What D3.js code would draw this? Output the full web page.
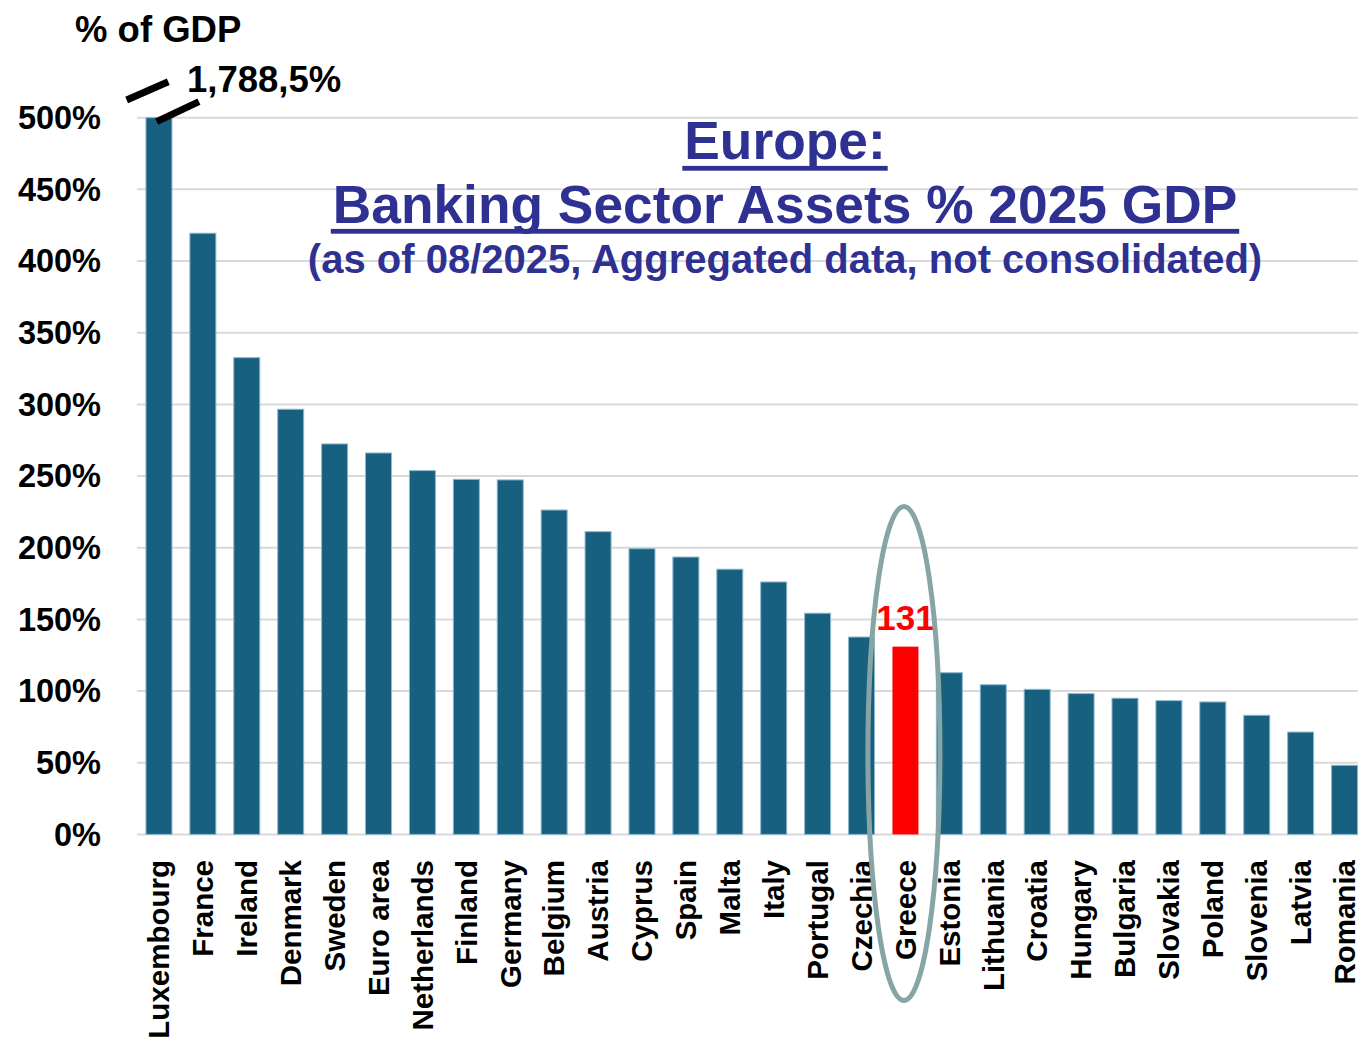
<!DOCTYPE html>
<html>
<head>
<meta charset="utf-8">
<script src="https://cdn.jsdelivr.net/npm/d3@7"></script>
<style>
  html, body { margin: 0; padding: 0; background: #ffffff; }
  svg { display: block; font-family: "Liberation Sans", Arial, sans-serif; font-weight: bold; }
</style>
</head>
<body>
<svg id="chart" width="1358" height="1038"></svg>
<script>
// Banking sector assets as % of 2025 GDP, by country
const countries = ["Luxembourg", "France", "Ireland", "Denmark", "Sweden", "Euro area",
  "Netherlands", "Finland", "Germany", "Belgium", "Austria", "Cyprus", "Spain", "Malta",
  "Italy", "Portugal", "Czechia", "Greece", "Estonia", "Lithuania", "Croatia", "Hungary",
  "Bulgaria", "Slovakia", "Poland", "Slovenia", "Latvia", "Romania"];
const assetsPctGdp = [1788.5, 419.4, 332.6, 296.6, 272.4, 266.1, 253.8, 247.7, 247.3, 226.3,
  211.2, 199.3, 193.5, 185.0, 176.1, 154.3, 137.7, 131, 112.8, 104.4, 101.2, 98.2, 95.0,
  93.3, 92.4, 83.1, 71.4, 48.2];
const yTicks = [0, 50, 100, 150, 200, 250, 300, 350, 400, 450, 500];
const yTickLabels = ["0%", "50%", "100%", "150%", "200%", "250%", "300%", "350%", "400%", "450%", "500%"];
const highlightCountry = "Greece";
const titleLines = ["Europe:", "Banking Sector Assets % 2025 GDP"];
const subtitle = "(as of 08/2025, Aggregated data, not consolidated)";
const yAxisTitle = "% of GDP";

const svg = d3.select("#chart");
const W = 1358;

const x = d3.scaleBand()
  .domain(countries)
  .range([137, 1366.5])
  .paddingInner(0.408)
  .paddingOuter(0.204);

const y = d3.scaleLinear()
  .domain([0, 500])
  .range([834.4, 117.7])
  .clamp(true);

const data = countries.map((c, i) => ({ country: c, value: assetsPctGdp[i] }));

// horizontal gridlines
svg.append("g")
  .selectAll("line")
  .data(yTicks)
  .join("line")
  .attr("x1", 137)
  .attr("x2", W)
  .attr("y1", d => y(d))
  .attr("y2", d => y(d))
  .attr("stroke", "#d9d9d9")
  .attr("stroke-width", 2);

// y tick labels
svg.append("g")
  .selectAll("text")
  .data(yTicks)
  .join("text")
  .attr("x", 101)
  .attr("y", d => y(d))
  .attr("dy", "0.35em")
  .attr("text-anchor", "end")
  .attr("font-size", 32.5)
  .attr("fill", "#000")
  .text((d, i) => yTickLabels[i]);

// bars
svg.append("g")
  .selectAll("rect")
  .data(data)
  .join("rect")
  .attr("x", d => x(d.country))
  .attr("width", x.bandwidth())
  .attr("y", d => y(d.value))
  .attr("height", d => y(0) - y(d.value))
  .attr("fill", d => d.country === highlightCountry ? "#ff0000" : "#17607f")
  .attr("stroke", d => d.country === highlightCountry ? "none" : "#8fb7cc")
  .attr("stroke-width", 1);

// category labels, rotated
svg.append("g")
  .selectAll("text")
  .data(data)
  .join("text")
  .attr("transform", d => `translate(${x(d.country) + x.bandwidth() / 2},860) rotate(-90)`)
  .attr("dy", "0.35em")
  .attr("text-anchor", "end")
  .attr("font-size", 29.5)
  .attr("fill", "#000")
  .text(d => d.country);

// value label above the highlighted bar
const hl = data.find(d => d.country === highlightCountry);
svg.append("text")
  .attr("x", x(hl.country) + x.bandwidth() / 2)
  .attr("y", y(hl.value) - 17)
  .attr("text-anchor", "middle")
  .attr("font-size", 35)
  .attr("fill", "#ff0000")
  .text(d3.format("d")(hl.value));

// ellipse around the highlighted country
svg.append("ellipse")
  .attr("cx", x(hl.country) + x.bandwidth() / 2 - 1.5)
  .attr("cy", 753.5)
  .attr("rx", 36)
  .attr("ry", 247)
  .attr("fill", "none")
  .attr("stroke", "#88a5a6")
  .attr("stroke-width", 5);

// axis-break marks and value for the off-scale bar
const offScale = data[0];
const bx = x(offScale.country);
const by = y(y.domain()[1]);
const breakMarks = [
  [[-19.3, -17.7], [22.3, -36]],
  [[10.7, 4], [53, -16]]
];
svg.append("g")
  .selectAll("line")
  .data(breakMarks)
  .join("line")
  .attr("x1", d => bx + d[0][0])
  .attr("y1", d => by + d[0][1])
  .attr("x2", d => bx + d[1][0])
  .attr("y2", d => by + d[1][1])
  .attr("stroke", "#000")
  .attr("stroke-width", 7);

svg.append("text")
  .attr("x", bx + 41)
  .attr("y", by - 25.7)
  .attr("font-size", 36.5)
  .attr("fill", "#000")
  .text(d3.format(",.1f")(offScale.value).replace(/\.(\d)$/, ",$1") + "%");

// y axis title
svg.append("text")
  .attr("x", 75)
  .attr("y", 42)
  .attr("font-size", 36.5)
  .attr("fill", "#000")
  .text(yAxisTitle);

// chart title
const titleColor = "#2e3192";
const cx = 785;
const titleBaselines = [159.3, 222.7];
const underlineY = [168.3, 231.3];
titleLines.forEach((t, i) => {
  const txt = svg.append("text")
    .attr("x", cx)
    .attr("y", titleBaselines[i])
    .attr("text-anchor", "middle")
    .attr("font-size", 53.3)
    .attr("fill", titleColor)
    .text(t);
  const bb = txt.node().getBBox();
  svg.append("rect")
    .attr("x", bb.x - 2)
    .attr("width", bb.width + 4)
    .attr("y", underlineY[i] - 2.4)
    .attr("height", 4.8)
    .attr("fill", titleColor);
});
svg.append("text")
  .attr("x", cx)
  .attr("y", 273.3)
  .attr("text-anchor", "middle")
  .attr("font-size", 40)
  .attr("fill", titleColor)
  .text(subtitle);
</script>
</body>
</html>
